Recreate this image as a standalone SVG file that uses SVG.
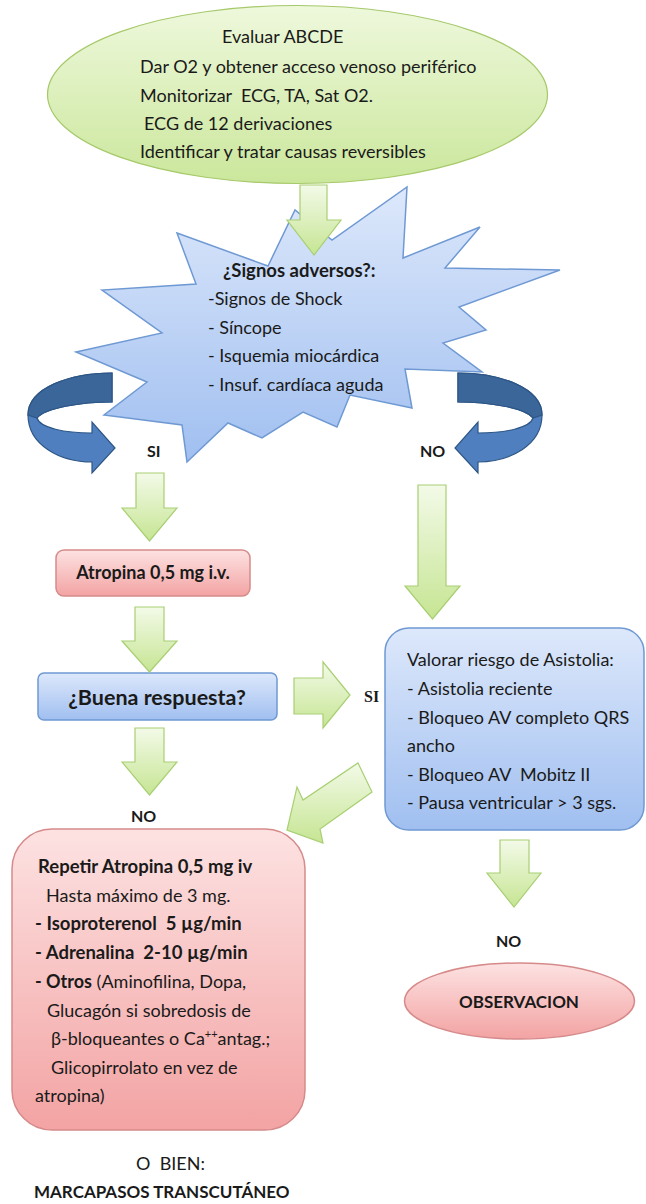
<svg xmlns="http://www.w3.org/2000/svg" width="646" height="1204" viewBox="0 0 646 1204">
<style>
text{font-family:Lato,"Open Sans","Liberation Sans",sans-serif;fill:#1a1a1a;font-size:18px}
.b{font-weight:bold}
.f17{font-size:17px}
.f185{font-size:18.5px}
.f215{font-size:21.5px}
.lab{font-size:16px;font-weight:bold}
.ga{fill:url(#gGreen);stroke:#a8cf72;stroke-width:1.2}
.blue{fill:url(#gBlue);stroke:#6f99d3;stroke-width:1.5}
.red{fill:url(#gRed);stroke:#d68a8a;stroke-width:1.5}
.dk{fill:#4f7fbf;stroke:#2d5686;stroke-width:1.2}
.dk2{fill:#3b6699;stroke:#2d5686;stroke-width:1.2}
</style>
<defs>
<linearGradient id="gGreen" x1="0" y1="0" x2="0" y2="1"><stop offset="0" stop-color="#f3fae8"/><stop offset="1" stop-color="#c6e593"/></linearGradient>
<linearGradient id="gEll" x1="0" y1="0" x2="0" y2="1"><stop offset="0" stop-color="#eef8dc"/><stop offset="1" stop-color="#cbe79c"/></linearGradient>
<linearGradient id="gBlue" x1="0" y1="0" x2="0" y2="1"><stop offset="0" stop-color="#dde8fb"/><stop offset="1" stop-color="#a0bff0"/></linearGradient>
<linearGradient id="gRed" x1="0" y1="0" x2="0" y2="1"><stop offset="0" stop-color="#fde2e2"/><stop offset="1" stop-color="#f3a3a3"/></linearGradient>
</defs>

<g id="n-evaluar">
<ellipse cx="297.5" cy="94.5" rx="250" ry="89" fill="url(#gEll)" stroke="#a6c96a" stroke-width="1.2"/>
<text x="222" y="43">Evaluar ABCDE</text>
<text x="140" y="73">Dar O2 y obtener acceso venoso periférico</text>
<text x="140" y="102" xml:space="preserve">Monitorizar  ECG, TA, Sat O2.</text>
<text x="144" y="130">ECG de 12 derivaciones</text>
<text x="140" y="158">Identificar y tratar causas reversibles</text>
</g>

<g id="n-signos">
<polygon class="blue" points="177,233 268,266 295,210 332,240 407,187 403,258 480,227 445,268 560,270 459,307 486,330 443,343 482,372 405,369 412,408 350,395 337,427 303,412 262,438 228,423 187,462 182,425 104,415 147,382 76,352 162,333 102,290 196,284"/>
<text class="b f185" x="223" y="277">¿Signos adversos?:</text>
<text x="208" y="305">-Signos de Shock</text>
<text x="208" y="334">- Síncope</text>
<text x="208" y="362">- Isquemia miocárdica</text>
<text x="208" y="391">- Insuf. cardíaca aguda</text>
</g>

<g id="n-atropina">
<rect class="red" x="56" y="550" width="194" height="46" rx="8"/>
<text class="b" x="153" y="579" text-anchor="middle">Atropina 0,5 mg i.v.</text>
</g>

<g id="n-buena">
<rect class="blue" x="38" y="673" width="239" height="47" rx="6"/>
<text class="b f215" x="157" y="705" text-anchor="middle">¿Buena respuesta?</text>
</g>

<g id="n-valorar">
<rect class="blue" x="385" y="628" width="259" height="202" rx="24"/>
<text x="407" y="666">Valorar riesgo de Asistolia:</text>
<text x="407" y="695">- Asistolia reciente</text>
<text x="407" y="724">- Bloqueo AV completo QRS</text>
<text x="407" y="752">ancho</text>
<text x="407" y="781" xml:space="preserve">- Bloqueo AV  Mobitz II</text>
<text x="407" y="809">- Pausa ventricular &gt; 3 sgs.</text>
</g>

<g id="n-repetir">
<rect class="red" x="12" y="829" width="293" height="301" rx="40"/>
<text class="b f185" x="38" y="873">Repetir Atropina 0,5 mg iv</text>
<text x="46" y="902">Hasta máximo de 3 mg.</text>
<text class="b f185" x="35" y="930" xml:space="preserve">- Isoproterenol  5 µg/min</text>
<text class="b f185" x="35" y="959" xml:space="preserve">- Adrenalina  2-10 µg/min</text>
<text x="35" y="988"><tspan class="b">- Otros</tspan> (Aminofilina, Dopa,</text>
<text x="47" y="1017">Glucagón si sobredosis de</text>
<text x="51" y="1045">β-bloqueantes o Ca<tspan style="font-size:11px" dy="-7">++</tspan><tspan dy="7">antag.;</tspan></text>
<text x="51" y="1074">Glicopirrolato en vez de</text>
<text x="35" y="1102">atropina)</text>
</g>

<g id="n-observacion">
<ellipse class="red" cx="519.5" cy="1001" rx="115" ry="38"/>
<text class="b f17" x="519" y="1008" text-anchor="middle">OBSERVACION</text>
</g>

<g id="n-marcapasos">
<text x="136" y="1170" xml:space="preserve">O  BIEN:</text>
<text class="b f17" x="34" y="1198">MARCAPASOS TRANSCUTÁNEO</text>
</g>

<g id="connectors">
<polygon class="ga" points="300,185 327,185 327,220 341,220 314,255 287,220 300,220"/>
<g id="curve-left">
<path class="dk" d="M112,373 C70,373 28,388 28,415 C28,445 60,462 92,462 L92,473 L115,448 L92,422 L92,433 C65,433 40,428 37,418 C45,408 80,402 112,402 Z"/>
<path class="dk2" d="M112,373 C70,373 28,388 28,415 L37,418 C45,408 80,402 112,402 Z"/>
</g>
<g id="curve-right" transform="translate(570,0) scale(-1,1)">
<path class="dk" d="M112,373 C70,373 28,388 28,415 C28,445 60,462 92,462 L92,473 L115,448 L92,422 L92,433 C65,433 40,428 37,418 C45,408 80,402 112,402 Z"/>
<path class="dk2" d="M112,373 C70,373 28,388 28,415 L37,418 C45,408 80,402 112,402 Z"/>
</g>
<text class="lab" x="147" y="457">SI</text>
<text class="lab" x="420" y="457">NO</text>
<polygon class="ga" points="136,473 164,473 164,508 177,508 149.5,541 122,508 136,508"/>
<polygon class="ga" points="135,607 164,607 164,641 177,641 149.5,672 122,641 135,641"/>
<polygon class="ga" points="135,728 164,728 164,762 177,762 149.5,795 122,762 135,762"/>
<text class="lab" x="131" y="822">NO</text>
<polygon class="ga" points="294,678 323,678 323,662 350,695 323,728 323,714 294,714"/>
<text class="lab" x="364" y="702" style="font-family:'Liberation Serif',serif">SI</text>
<polygon class="ga" points="418,485 446,485 446,586 460,586 432.5,619 405,586 418,586"/>
<polygon class="ga" points="358,763 372,792 320,829 323,843 287,830 297,787 303,800"/>
<polygon class="ga" points="500,840 529,840 529,873 541,873 514,907 487,873 500,873"/>
<text class="lab" x="496" y="947">NO</text>
</g>
</svg>
